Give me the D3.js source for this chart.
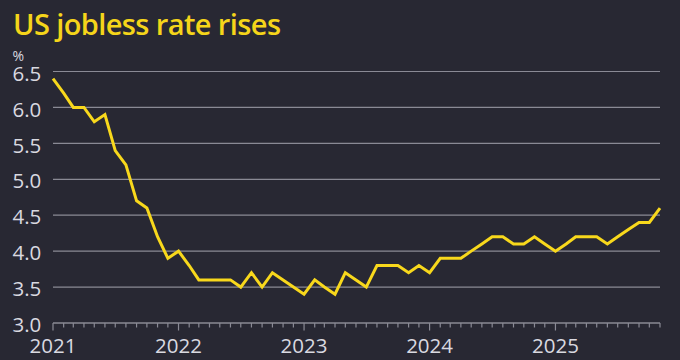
<!DOCTYPE html>
<html>
<head>
<meta charset="utf-8">
<script src="https://cdn.jsdelivr.net/npm/d3@7"></script>
<style>
  html, body { margin: 0; padding: 0; background: #282833; }
  svg { display: block; }
</style>
</head>
<body>
<svg id="chart" width="680" height="360"></svg>
<script>
const title = "US jobless rate rises";
const unitLabel = "%";
const startMonth = "2021-01";
const rates = [
  6.4, 6.2, 6.0, 6.0, 5.8, 5.9, 5.4, 5.2, 4.7, 4.6, 4.2, 3.9,
  4.0, 3.8, 3.6, 3.6, 3.6, 3.6, 3.5, 3.7, 3.5, 3.7, 3.6, 3.5,
  3.4, 3.6, 3.5, 3.4, 3.7, 3.6, 3.5, 3.8, 3.8, 3.8, 3.7, 3.8,
  3.7, 3.9, 3.9, 3.9, 4.0, 4.1, 4.2, 4.2, 4.1, 4.1, 4.2, 4.1,
  4.0, 4.1, 4.2, 4.2, 4.2, 4.1, 4.2, 4.3, 4.4, 4.4, 4.6
];
const yTicks = [3.0, 3.5, 4.0, 4.5, 5.0, 5.5, 6.0, 6.5];
const xYearTicks = ["2021", "2022", "2023", "2024", "2025"];

const parse = d3.timeParse("%Y-%m");
const t0 = parse(startMonth);
const data = rates.map((v, i) => ({ date: d3.timeMonth.offset(t0, i), value: v }));

const W = 680, H = 360;
const margin = { left: 53, right: 20, top: 71.5, bottom: 37 };
const svg = d3.select("#chart");

svg.append("rect").attr("width", W).attr("height", H).attr("fill", "#282833");

const x = d3.scaleTime()
  .domain([t0, data[data.length - 1].date])
  .range([margin.left, W - margin.right]);
const y = d3.scaleLinear()
  .domain([3.0, 6.5])
  .range([H - margin.bottom, margin.top]);

const font = "'Open Sans', sans-serif";

// gridlines
svg.append("g")
  .selectAll("line")
  .data(yTicks.filter(d => d > 3.0))
  .join("line")
  .attr("x1", margin.left).attr("x2", W - margin.right)
  .attr("y1", d => y(d)).attr("y2", d => y(d))
  .attr("stroke", "#8a8a95").attr("stroke-width", 1.2);

// y labels
svg.append("g")
  .selectAll("text")
  .data(yTicks)
  .join("text")
  .attr("x", 12.5)
  .attr("y", d => y(d) + 9.2)
  .attr("fill", "#d9d9e0")
  .attr("font-family", font)
  .attr("font-size", 20.5)
  .text(d => d.toFixed(1));

svg.append("text")
  .attr("x", 12.5).attr("y", 60.5)
  .attr("fill", "#d9d9e0")
  .attr("font-family", font)
  .attr("font-size", 14)
  .text(unitLabel);

// x axis
const xAxisY = y(3.0);
const monthTicks = d3.timeMonth.range(t0, d3.timeMonth.offset(data[data.length - 1].date, 1));
const ax = svg.append("g");
ax.append("line")
  .attr("x1", margin.left).attr("x2", W - margin.right)
  .attr("y1", xAxisY).attr("y2", xAxisY)
  .attr("stroke", "#8a8a95").attr("stroke-width", 1.5);
ax.selectAll("line.m")
  .data(monthTicks)
  .join("line")
  .attr("class", "m")
  .attr("x1", d => x(d)).attr("x2", d => x(d))
  .attr("y1", xAxisY)
  .attr("y2", d => xAxisY + (d.getMonth() === 0 ? 7.5 : 4.5))
  .attr("stroke", "#8a8a95").attr("stroke-width", 1.2);
ax.selectAll("text")
  .data(xYearTicks)
  .join("text")
  .attr("x", d => x(parse(d + "-01")))
  .attr("y", 353)
  .attr("text-anchor", "middle")
  .attr("fill", "#d9d9e0")
  .attr("font-family", font)
  .attr("font-size", 20.5)
  .text(d => d);

// line
const line = d3.line().x(d => x(d.date)).y(d => y(d.value));
svg.append("path")
  .datum(data)
  .attr("d", line)
  .attr("fill", "none")
  .attr("stroke", "#f8d81c")
  .attr("stroke-width", 3)
  .attr("stroke-linejoin", "miter")
  .attr("stroke-linecap", "butt");

// title
svg.append("text")
  .attr("x", 13).attr("y", 35)
  .attr("fill", "#f5d51a")
  .attr("font-family", font)
  .attr("font-size", 29)
  .attr("font-weight", 600)
  .attr("letter-spacing", -0.6)
  .text(title);
</script>
</body>
</html>
